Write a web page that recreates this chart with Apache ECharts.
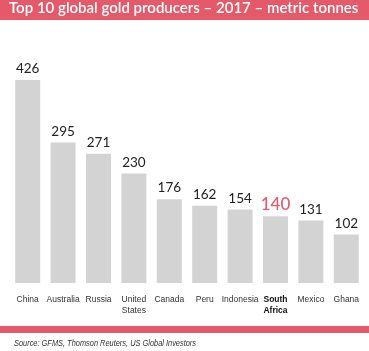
<!DOCTYPE html>
<html>
<head>
<meta charset="utf-8">
<script src="https://cdn.jsdelivr.net/npm/echarts@6/dist/echarts.min.js"></script>
<style>
  html, body { margin: 0; padding: 0; background: #fff; }
  #main { width: 369px; height: 351px; }
</style>
</head>
<body>
<div id="main"></div>
<script>
var countries = ['China', 'Australia', 'Russia', 'United\nStates', 'Canada', 'Peru', 'Indonesia', 'South\nAfrica', 'Mexico', 'Ghana'];
var tonnes = [426, 295, 271, 230, 176, 162, 154, 140, 131, 102];
var highlight = 'South\nAfrica';

var myChart = echarts.init(document.getElementById('main'));
var pink = '#e45a6a';
var narrow = 'Liberation Sans Narrow, Arial Narrow, sans-serif';

// 柱子数据，南非单独标红
var barData = tonnes.map(function (v, i) {
    if (countries[i] === highlight) {
        return {
            value: v,
            label: { color: pink, fontSize: 17, fontWeight: 500, distance: 3 }
        };
    }
    return v;
});

myChart.setOption({
    backgroundColor: '#fff',
    animation: false,
    grid: { left: 10, right: 5, top: 80, bottom: 68 },
    xAxis: {
        type: 'category',
        data: countries,
        axisLine: { show: false },
        axisTick: { show: false },
        axisLabel: {
            interval: 0,
            margin: 11,
            lineHeight: 11,
            fontFamily: narrow,
            fontSize: 8.5,
            color: '#333',
            formatter: function (v) {
                if (v === highlight) return '{b|' + v.replace('\n', '}\n{b|') + '}';
                return v;
            },
            rich: {
                b: { fontWeight: 'bold', color: '#111', fontSize: 8.5, lineHeight: 11, fontFamily: narrow }
            }
        }
    },
    yAxis: {
        type: 'value',
        min: 0,
        max: 426,
        show: false
    },
    series: [{
        type: 'bar',
        data: barData,
        barWidth: 25,
        itemStyle: { color: '#d3d3d4' },
        label: {
            show: true,
            position: 'top',
            distance: 4,
            fontFamily: 'Lato, sans-serif',
            fontSize: 13.5,
            color: '#222'
        }
    }],
    graphic: [
        { type: 'rect', left: 0, top: 0, shape: { width: 369, height: 20 }, style: { fill: pink } },
        { type: 'text', left: 9, top: 1, style: {
            text: 'Top 10 global gold producers \u2013 2017 \u2013 metric tonnes',
            fill: '#fff', fontSize: 15, fontWeight: 600, fontFamily: 'Lato, sans-serif' } },
        { type: 'rect', left: 0, top: 326, shape: { width: 369, height: 7 }, style: { fill: pink } },
        { type: 'text', x: 14, y: 338, scaleX: 0.78, style: {
            text: 'Source: GFMS, Thomson Reuters, US Global Investors',
            fill: '#333', fontSize: 9.5, fontStyle: 'italic', fontFamily: narrow } }
    ]
});
</script>
</body>
</html>
